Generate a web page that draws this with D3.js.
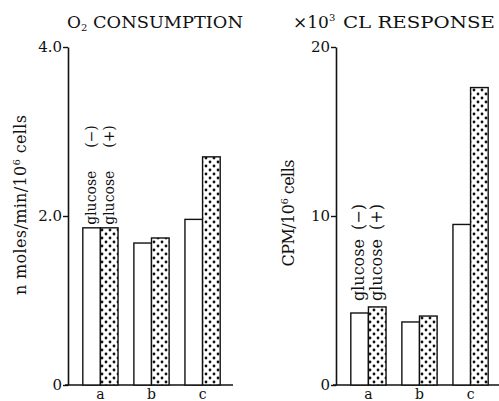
<!DOCTYPE html>
<html><head><meta charset="utf-8">
<script src="https://cdn.jsdelivr.net/npm/d3@7"></script>
<style>body{margin:0;background:#fff;}svg{display:block;}text{font-family:"DejaVu Serif",serif;fill:#111;}</style>
</head><body>
<script>
const categories = ["a","b","c"];
const o2Minus = [1.86, 1.68, 1.96];
const o2Plus  = [1.86, 1.74, 2.70];
const clMinus = [4.26, 3.73, 9.5];
const clPlus  = [4.62, 4.08, 17.6];
const o2Ticks = [0, 2, 4];
const o2TickLabels = ["0", "2.0", "4.0"];
const clTicks = [0, 10, 20];
const clTickLabels = ["0", "10", "20"];

const W = 499, H = 401;
const svg = d3.select("body").append("svg").attr("width", W).attr("height", H);
const defs = svg.append("defs");
const pat = defs.append("pattern").attr("id","dots").attr("patternUnits","userSpaceOnUse")
  .attr("width",8).attr("height",8);
pat.append("rect").attr("width",8).attr("height",8).attr("fill","#fff");
pat.append("circle").attr("cx",2).attr("cy",2).attr("r",1.4).attr("fill","#111");
pat.append("circle").attr("cx",6).attr("cy",6).attr("r",1.4).attr("fill","#111");

function panel(opts){
  const g = svg.append("g");
  const y = d3.scaleLinear().domain(opts.domain).range([385, 47]);
  const x = d3.scaleBand().domain(categories).range(opts.xr).paddingInner(0.31).paddingOuter(0.29);
  const x1 = d3.scaleBand().domain(["minus","plus"]).range([0, x.bandwidth()]);
  const ax = d3.axisLeft(y).tickValues(opts.ticks).tickFormat((d,i)=>opts.tickLabels[i]).tickSize(5).tickSizeOuter(0);
  const ag = g.append("g").attr("transform",`translate(${opts.xr[0]},0)`).call(ax);
  ag.select(".domain").attr("stroke","#111").attr("stroke-width",1.6);
  ag.selectAll(".tick line").attr("stroke","#111").attr("stroke-width",1.4);
  ag.selectAll(".tick text").attr("font-family","DejaVu Serif").attr("font-size",15).attr("fill","#111").attr("x",-6);
  g.append("line").attr("x1",opts.xr[0]-3).attr("x2",opts.baseEnd).attr("y1",y(0)).attr("y2",y(0))
    .attr("stroke","#111").attr("stroke-width",1.6);
  categories.forEach((c,i)=>{
    const x0 = x(c);
    g.append("rect").attr("x",x0+x1("minus")).attr("y",y(opts.minus[i]))
      .attr("width",x1.bandwidth()).attr("height",y(0)-y(opts.minus[i]))
      .attr("fill","#fff").attr("stroke","#111").attr("stroke-width",1.4);
    g.append("rect").attr("x",x0+x1("plus")).attr("y",y(opts.plus[i]))
      .attr("width",x1.bandwidth()).attr("height",y(0)-y(opts.plus[i]))
      .attr("fill","url(#dots)").attr("stroke","#111").attr("stroke-width",1.4);
    g.append("text").attr("x",x0+x.bandwidth()/2).attr("y",398.5).attr("text-anchor","middle")
      .attr("font-size",14).text(c);
  });
  const lx = x(categories[0]);
  [["minus","(−)"],["plus","(+)"]].forEach(([k,s],j)=>{
    const cx = lx + x1(k) + x1.bandwidth()/2 + 4.5;
    const by = y(opts.minus[0]) - opts.labelGap;
    g.append("text").attr("transform",`translate(${cx},${by}) rotate(-90)`)
      .attr("font-size",opts.labelSize).text("glucose");
    g.append("text").attr("transform",`translate(${cx},${by - opts.parenOff}) rotate(-90)`)
      .attr("font-size",opts.labelSize).text(s);
  });
  g.append("text").attr("transform",`translate(${opts.ytx},${opts.yty}) rotate(-90)`)
    .attr("text-anchor","middle").attr("font-size",16)
    .attr("textLength",opts.ytLen).attr("lengthAdjust","spacing").html(opts.ytitle);
  opts.titles.forEach(t=>{
    const tt = g.append("text").attr("x",t.x).attr("y",28).attr("font-size",17).html(t.html);
    if (t.len) tt.attr("textLength",t.len).attr("lengthAdjust","spacingAndGlyphs");
  });
}

panel({domain:[0,4], xr:[68,235], baseEnd:233, minus:o2Minus, plus:o2Plus,
  ticks:o2Ticks, tickLabels:o2TickLabels, labelGap:3, parenOff:77, labelSize:14,
  ytx:26, yty:205, ytLen:180,
  ytitle:'n moles/min/10<tspan dy="-6" font-size="10">6</tspan><tspan dy="6"> cells</tspan>',
  titles:[{x:67, html:'O<tspan dy="3" font-size="10">2</tspan>'},
          {x:93, html:'CONSUMPTION', len:150}]});
panel({domain:[0,20], xr:[336,503], baseEnd:499, minus:clMinus, plus:clPlus,
  ticks:clTicks, tickLabels:clTickLabels, labelGap:12, parenOff:71, labelSize:16,
  ytx:294, yty:213, ytLen:107,
  ytitle:'CPM/10<tspan dy="-6" font-size="10">6</tspan><tspan dy="6"> cells</tspan>',
  titles:[{x:293, html:'×10<tspan dy="-7" font-size="10">3</tspan>'},
          {x:343, html:'CL RESPONSE', len:152}]});
</script>
</body></html>
